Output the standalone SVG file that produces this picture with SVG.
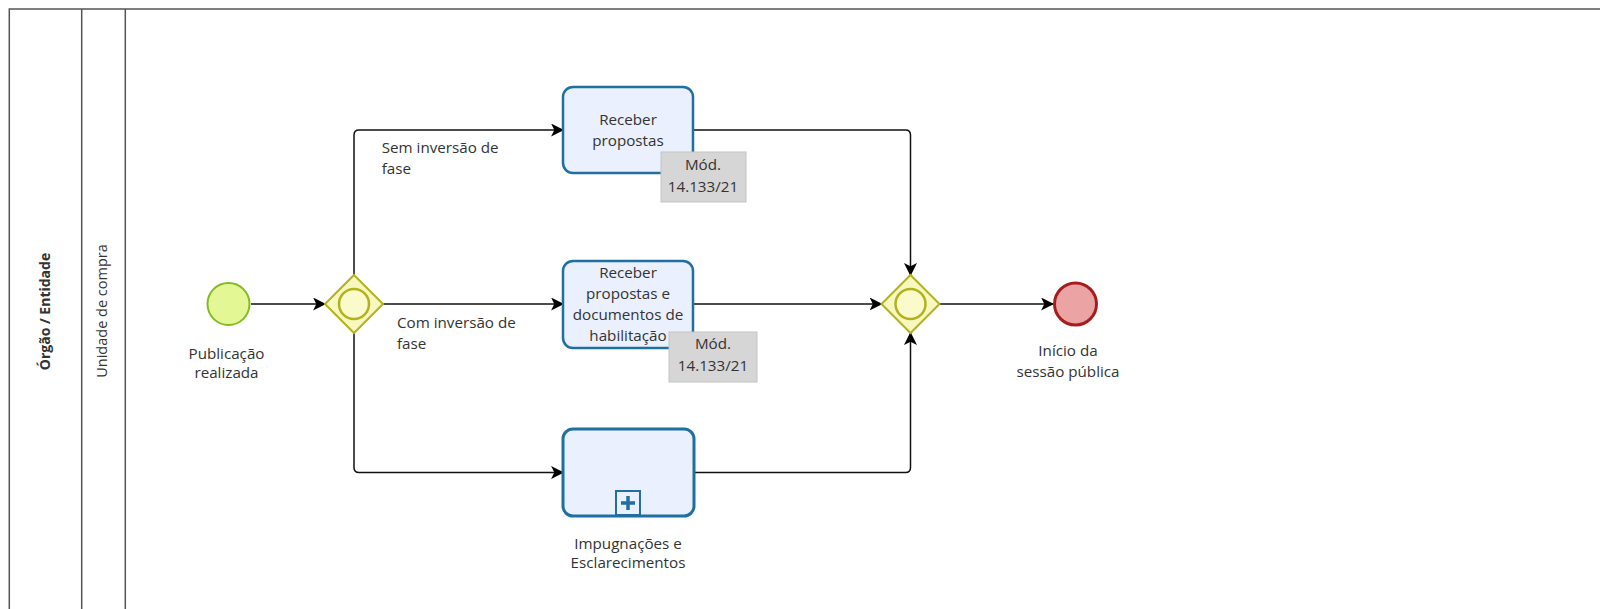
<svg xmlns="http://www.w3.org/2000/svg" width="1600" height="609" viewBox="0 0 1600 609">
<defs>
<marker id="arr" viewBox="0 0 12 12" refX="11" refY="6" markerWidth="13" markerHeight="13" markerUnits="userSpaceOnUse" orient="auto">
<path d="M0,0 L12,6 L0,12 L3,6 Z" fill="#000"/>
</marker>
</defs>
<style>
text{font-family:"Open Sans","Noto Sans","DejaVu Sans",sans-serif;font-size:15.2px;fill:#333}
.c{text-anchor:middle}
.task{fill:#eaf0fd;stroke:#1f6fa0;stroke-width:2.5}
.sub{fill:#eaf0fd;stroke:#1f6fa0;stroke-width:3}
.gw{fill:#f7f7bf;stroke:#b2b21e;stroke-width:2}
.gwi{fill:#fafacb;stroke:#b2b21e;stroke-width:2.5}
.ann{fill:#d6d6d6;stroke:#c4c4c4;stroke-width:1}
.flow{fill:none;stroke:#111;stroke-width:1.5;marker-end:url(#arr)}
.lane{fill:none;stroke:#555;stroke-width:1.5}
</style>
<rect width="1600" height="609" fill="#fff"/>
<g id="pool">
<rect class="lane" x="9.3" y="9" width="1700" height="700"/>
<line class="lane" x1="81.7" y1="9" x2="81.7" y2="609"/>
<line class="lane" x1="125.3" y1="9" x2="125.3" y2="609"/>
<text transform="translate(50,311.5) rotate(-90)" class="c" style="font-weight:bold;font-size:14px">Órgão / Entidade</text>
<text transform="translate(107,311) rotate(-90)" class="c" style="font-size:14.5px">Unidade de compra</text>
</g>
<g id="connectors">
<line class="flow" x1="251" y1="304" x2="325" y2="304"/>
<path class="flow" d="M354,275 V135 Q354,130 359,130 H563"/>
<line class="flow" x1="383" y1="304" x2="563" y2="304"/>
<path class="flow" d="M354,333 V467.5 Q354,472.5 359,472.5 H563"/>
<path class="flow" d="M693,130 H905.5 Q910.5,130 910.5,135 V275"/>
<line class="flow" x1="693" y1="304" x2="881.5" y2="304"/>
<path class="flow" d="M694,472.5 H905.5 Q910.5,472.5 910.5,467.5 V333"/>
<line class="flow" x1="939.5" y1="304" x2="1053" y2="304"/>
<text x="381.7" y="153">Sem inversão de</text>
<text x="381.7" y="174">fase</text>
<text x="397" y="328">Com inversão de</text>
<text x="397" y="349">fase</text>
</g>
<g id="start">
<circle cx="228.5" cy="304" r="21" fill="#e3f795" stroke="#84bb24" stroke-width="2"/>
<text class="c" x="226.5" y="359">Publicação</text>
<text class="c" x="226.5" y="378">realizada</text>
</g>
<g id="gateway1">
<polygon class="gw" points="354,275 383,304 354,333 325,304"/>
<circle class="gwi" cx="354" cy="304" r="15"/>
</g>
<g id="task1">
<rect class="task" x="563" y="87" width="130" height="86" rx="10"/>
<text class="c" x="628" y="125">Receber</text>
<text class="c" x="628" y="146">propostas</text>
</g>
<g id="ann1">
<rect class="ann" x="661" y="152" width="85" height="50"/>
<text class="c" x="703" y="170">Mód.</text>
<text class="c" x="703" y="192">14.133/21</text>
</g>
<g id="task2">
<rect class="task" x="563" y="261" width="130" height="87" rx="10"/>
<text class="c" x="628" y="278">Receber</text>
<text class="c" x="628" y="299">propostas e</text>
<text class="c" x="628" y="320">documentos de</text>
<text class="c" x="628" y="341">habilitação</text>
</g>
<g id="ann2">
<rect class="ann" x="669" y="332" width="88" height="50"/>
<text class="c" x="713" y="349">Mód.</text>
<text class="c" x="713" y="371">14.133/21</text>
</g>
<g id="subprocess">
<rect class="sub" x="563" y="429" width="131" height="87" rx="10"/>
<rect x="616" y="491" width="24" height="24" fill="#eaf0fd" stroke="#1f6fa0" stroke-width="2"/>
<path d="M628,496 V510 M621,503 H635" stroke="#1f6fa0" stroke-width="3.5"/>
<text class="c" x="628" y="549">Impugnações e</text>
<text class="c" x="628" y="568">Esclarecimentos</text>
</g>
<g id="gateway2">
<polygon class="gw" points="910.5,275 939.5,304 910.5,333 881.5,304"/>
<circle class="gwi" cx="910.5" cy="304" r="15"/>
</g>
<g id="end">
<circle cx="1075.5" cy="304" r="21" fill="#eba3a3" stroke="#a51d1d" stroke-width="3"/>
<text class="c" x="1068" y="356">Início da</text>
<text class="c" x="1068" y="377">sessão pública</text>
</g>
</svg>
